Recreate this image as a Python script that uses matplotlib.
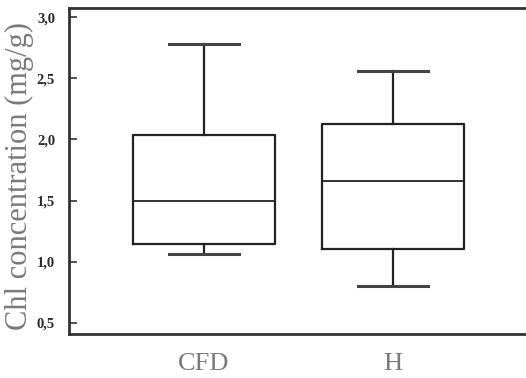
import matplotlib
matplotlib.use("Agg")
import matplotlib.pyplot as plt

categories = ["CFD", "H"]
whislo = [1.06, 0.80]
q1 = [1.145, 1.105]
med = [1.50, 1.66]
q3 = [2.04, 2.13]
whishi = [2.78, 2.56]
yticks = [0.5, 1.0, 1.5, 2.0, 2.5, 3.0]
ytick_labels = ["0,5", "1,0", "1,5", "2,0", "2,5", "3,0"]

plt.rcParams['font.family'] = ['Liberation Serif', 'DejaVu Serif']

W, H = 526, 378
fig = plt.figure(figsize=(W / 100, H / 100), dpi=100)
ax = fig.add_axes([69 / W, 1 - 334 / H, 1 - 69 / W, (334 - 8) / H])

stats = []
for i, c in enumerate(categories):
    stats.append(dict(label=c, whislo=whislo[i], q1=q1[i], med=med[i],
                      q3=q3[i], whishi=whishi[i], fliers=[]))

lc = "#222222"
ax.bxp(stats, positions=[1, 2], widths=0.75, showfliers=False,
       boxprops=dict(color=lc, linewidth=1.6),
       medianprops=dict(color=lc, linewidth=1.3),
       whiskerprops=dict(color=lc, linewidth=1.6),
       capprops=dict(color="#444444", linewidth=2.2),
       capwidths=0.37)

ax.set_xlim(0.286, 2.704)
ax.set_ylim(0.41, 3.074)
ax.set_yticks(yticks)
ax.set_yticklabels(ytick_labels)
ax.tick_params(axis='y', direction='in', length=6, width=1.2, color="#333333",
               pad=10, labelsize=10.5, labelcolor="#2a2a2a")
ax.tick_params(axis='x', length=0, pad=14, labelsize=19, labelcolor="#7a7a7a")
for lbl in ax.get_yticklabels():
    lbl.set_fontweight('semibold')

for s in ['left', 'top', 'bottom']:
    ax.spines[s].set_linewidth(2.0)
    ax.spines[s].set_color("#333333")
ax.spines['right'].set_visible(False)

ax.set_ylabel("Chl concentration (mg/g)", fontsize=22, color="#7a7a7a")
ax.yaxis.set_label_coords(-0.077, 0.485)

fig.savefig("out.png", dpi=100)
